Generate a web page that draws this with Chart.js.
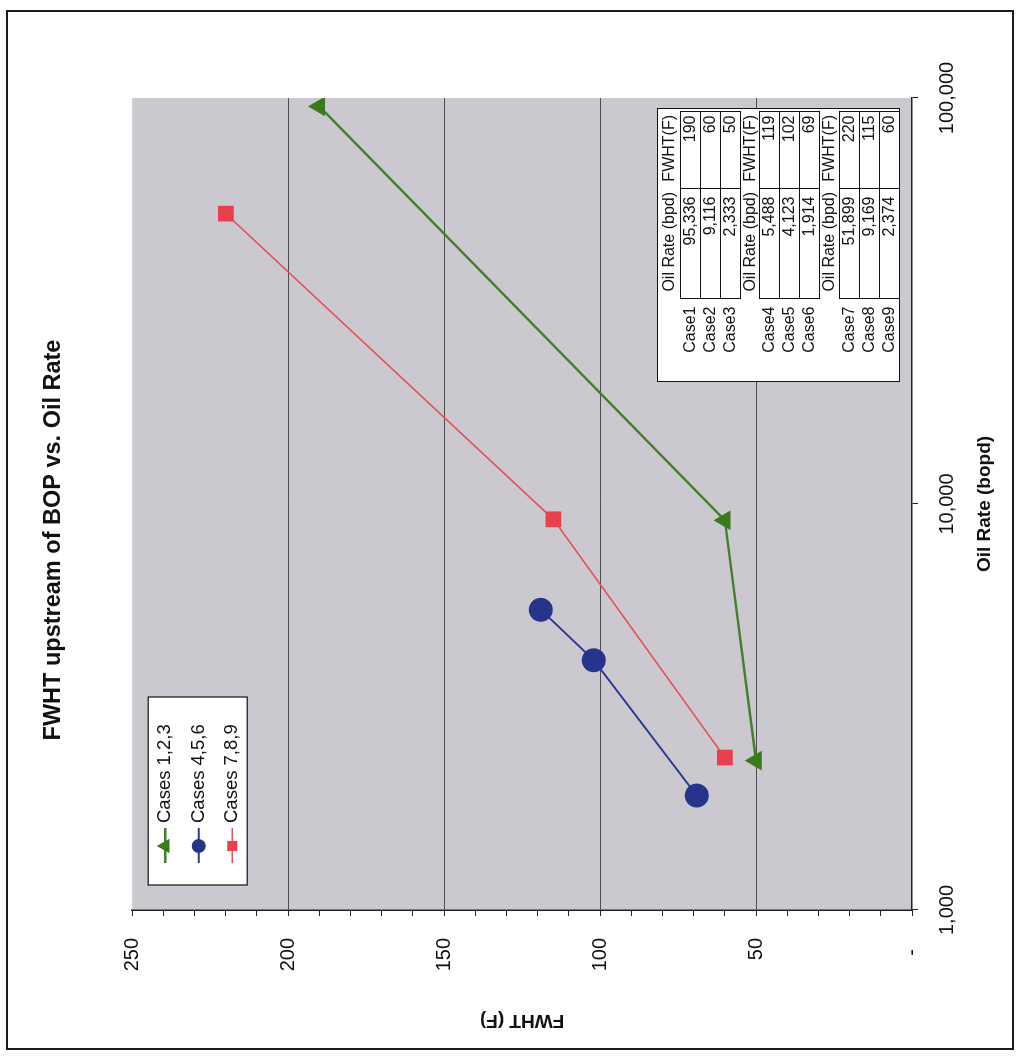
<!DOCTYPE html>
<html>
<head>
<meta charset="utf-8">
<script src="https://cdn.jsdelivr.net/npm/chart.js@4.4.1/dist/chart.umd.min.js"></script>
<style>
  html, body { margin: 0; padding: 0; background: #fff; }
  body { width: 1018px; height: 1057px; overflow: hidden; position: relative; }
  /* the whole chart is drawn upright, then turned a quarter turn to the left */
  #sheet {
    position: absolute; left: 0; top: 0;
    width: 1057px; height: 1018px;
    transform-origin: 0 0;
    transform: translateY(1057px) rotate(-90deg);
    background: #fff;
  }
  #frame {
    position: absolute; left: 7px; top: 6px; width: 1040px; height: 1008px;
    box-sizing: border-box; border: 2px solid #1c1c1c;
  }
  #chart { position: absolute; left: 0; top: 0; }
  #tbl {
    position: absolute; left: 675px; top: 657px; width: 274px; height: 243px;
    box-sizing: border-box; border: 1.5px solid #111; background: #fff;
    font: 16px Arial, "Liberation Sans", sans-serif; color: #111;
  }
  #tbl table { border-collapse: collapse; table-layout: fixed; }
  #tbl td { padding: 0 3px 0 0; text-align: right; white-space: nowrap; line-height: 18px; }
  #tbl td.box { border: 1px solid #111; }
</style>
</head>
<body>
<div id="sheet">
  <div id="frame"></div>
  <canvas id="chart" width="1057" height="1018"></canvas>
  <div id="tbl"></div>
</div>
<script>
var seriesLabels = ['Cases 1,2,3', 'Cases 4,5,6', 'Cases 7,8,9'];
var caseNames = [['Case1', 'Case2', 'Case3'], ['Case4', 'Case5', 'Case6'], ['Case7', 'Case8', 'Case9']];

var oil123 = [95336, 9116, 2333];
var fwht123 = [190, 60, 50];
var oil456 = [5488, 4123, 1914];
var fwht456 = [119, 102, 69];
var oil789 = [51899, 9169, 2374];
var fwht789 = [220, 115, 60];

var xTicks = [1000, 10000, 100000];
var xTickLabels = ['1,000', '10,000', '100,000'];
var yTicks = [0, 10, 20, 30, 40, 50, 60, 70, 80, 90, 100, 110, 120, 130, 140, 150, 160, 170, 180, 190, 200, 210, 220, 230, 240, 250];
var yMajor = [0, 50, 100, 150, 200, 250];
var yMajorLabels = ['-  ', '50', '100', '150', '200', '250'];
var tableHeads = ['Oil Rate (bpd)', 'FWHT(F)'];

var fontFam = 'Arial, "Liberation Sans", sans-serif';
Chart.defaults.font.family = fontFam;
Chart.defaults.color = '#111';

function pontos(xs, ys) {
    var out = [];
    for (var i = 0; i < xs.length; i++) out.push({ x: xs[i], y: ys[i] });
    return out;
}

var fundoPlot = {
    id: 'fundoPlot',
    beforeDraw: function(chart) {
        var a = chart.chartArea, ctx = chart.ctx;
        ctx.save();
        ctx.fillStyle = '#ccc8d0';
        ctx.fillRect(a.left, a.top, a.right - a.left, a.bottom - a.top);
        ctx.restore();
    }
};

// legend box sits inside the plot, upper left
var caixaLegenda = {
    id: 'caixaLegenda',
    afterDatasetsDraw: function(chart) {
        var ctx = chart.ctx, a = chart.chartArea;
        var x0 = a.left + 25, y0 = a.top + 16, w = 188, h = 99;
        ctx.save();
        ctx.fillStyle = '#fff';
        ctx.fillRect(x0, y0, w, h);
        ctx.strokeStyle = '#111';
        ctx.lineWidth = 1.2;
        ctx.strokeRect(x0, y0, w, h);
        ctx.font = '18.5px ' + fontFam;
        ctx.textBaseline = 'middle';
        chart.data.datasets.forEach(function(ds, i) {
            var cy = y0 + 17 + i * 33.5;
            ctx.strokeStyle = ds.borderColor;
            ctx.lineWidth = ds.borderWidth;
            ctx.beginPath();
            ctx.moveTo(x0 + 22, cy);
            ctx.lineTo(x0 + 57, cy);
            ctx.stroke();
            ctx.fillStyle = ds.pointBackgroundColor;
            ctx.strokeStyle = ds.pointBorderColor;
            Chart.helpers.drawPoint(ctx, { pointStyle: ds.pointStyle, radius: 6, borderWidth: 1, rotation: 0 }, x0 + 39, cy);
            ctx.fillStyle = '#111';
            ctx.fillText(ds.label, x0 + 62, cy);
        });
        ctx.restore();
    }
};

var cores = {
    linha: ['#43802a', '#2c3a8f', '#e4505a'],
    ponto: ['#3b7a1c', '#26348c', '#e8404f']
};

new Chart(document.getElementById('chart'), {
    type: 'line',
    data: {
        datasets: [
            { label: seriesLabels[0], data: pontos(oil123, fwht123), borderColor: cores.linha[0], borderWidth: 2.4,
              pointStyle: 'triangle', pointRadius: 9, pointBackgroundColor: cores.ponto[0], pointBorderColor: cores.ponto[0] },
            { label: seriesLabels[1], data: pontos(oil456, fwht456), borderColor: cores.linha[1], borderWidth: 2,
              pointStyle: 'circle', pointRadius: 11, pointBackgroundColor: cores.ponto[1], pointBorderColor: cores.ponto[1] },
            { label: seriesLabels[2], data: pontos(oil789, fwht789), borderColor: cores.linha[2], borderWidth: 1.6,
              pointStyle: 'rect', pointRadius: 10, pointBackgroundColor: cores.ponto[2], pointBorderColor: cores.ponto[2] }
        ]
    },
    options: {
        responsive: false,
        animation: false,
        events: [],
        layout: { padding: { left: 75, right: 98, top: 0, bottom: 8 } },
        plugins: {
            legend: { display: false },
            tooltip: { enabled: false },
            title: {
                display: true, text: 'FWHT upstream of BOP vs. Oil Rate',
                font: { size: 23.5, weight: 'bold' }, color: '#111',
                padding: { top: 39, bottom: 65 }
            }
        },
        scales: {
            x: {
                type: 'logarithmic', min: 1000, max: 100000,
                afterBuildTicks: function(s) { s.ticks = xTicks.map(function(v) { return { value: v }; }); },
                afterFit: function(s) { s.height = 98; },
                ticks: {
                    autoSkip: false, maxRotation: 0, padding: 17, font: { size: 20 }, color: '#111',
                    callback: function(v, i) { return xTickLabels[i]; }
                },
                grid: { drawOnChartArea: false, tickLength: 6, tickColor: '#222' },
                border: { color: '#222', width: 1.5 },
                title: {
                    display: true, text: 'Oil Rate (bopd)', font: { size: 19, weight: 'bold' }, color: '#111',
                    padding: { top: 0, bottom: 13.6 }
                }
            },
            y: {
                min: 0, max: 250,
                afterBuildTicks: function(s) { s.ticks = yTicks.map(function(v) { return { value: v }; }); },
                afterFit: function(s) { s.width = 72; },
                ticks: {
                    autoSkip: false, padding: 22, font: { size: 20 }, color: '#111',
                    callback: function(v) {
                        var k = yMajor.indexOf(v);
                        return k >= 0 ? yMajorLabels[k] : '';
                    }
                },
                grid: {
                    color: function(c) {
                        var v = c.tick ? c.tick.value : -1;
                        return (v > 0 && v < 250 && v % 50 === 0) ? '#4d4d4d' : 'rgba(0,0,0,0)';
                    },
                    lineWidth: 1, tickLength: 6, tickColor: '#222'
                },
                border: { color: '#222', width: 1.5 },
                title: {
                    display: true, text: 'FWHT (F)', font: { size: 19, weight: 'bold' }, color: '#111',
                    padding: { top: -49.4, bottom: 0 }
                }
            }
        }
    },
    plugins: [fundoPlot, caixaLegenda]
});

// data table placed over the plot, built from the same arrays
function montarTabela() {
    var grupos = [[oil123, fwht123], [oil456, fwht456], [oil789, fwht789]];
    var alturaCab = [22, 18, 20];
    var html = '<table><colgroup><col style="width:82px"><col style="width:110px"><col style="width:77px"></colgroup>';
    for (var g = 0; g < grupos.length; g++) {
        html += '<tr style="height:' + alturaCab[g] + 'px"><td></td><td>' + tableHeads[0] + '</td><td>' + tableHeads[1] + '</td></tr>';
        for (var i = 0; i < 3; i++) {
            html += '<tr style="height:20px"><td style="padding-right:7px">' + caseNames[g][i] + '</td>' +
                '<td class="box" style="padding-right:7px">' + grupos[g][0][i].toLocaleString('en-US') + '</td>' +
                '<td class="box">' + grupos[g][1][i] + '</td></tr>';
        }
    }
    html += '</table>';
    document.getElementById('tbl').innerHTML = html;
}
montarTabela();
</script>
</body>
</html>
